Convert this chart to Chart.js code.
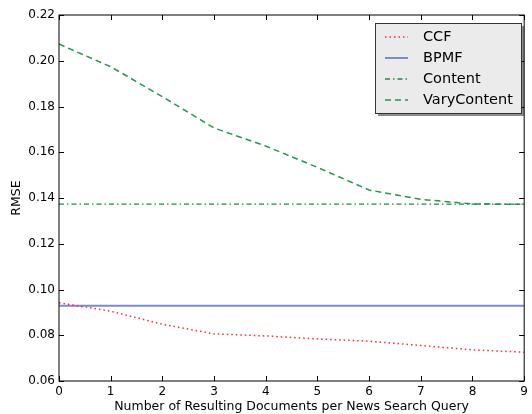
<!DOCTYPE html>
<html lang="en">
<head>
    <meta charset="UTF-8">
    <title>RMSE vs Number of Resulting Documents</title>
    <script src="https://cdn.jsdelivr.net/npm/chart.js"></script>
    <style>
        body { margin: 0; background: #fff; }
        .wrap { width: 532px; height: 414px; position: relative; }
    </style>
</head>
<body>
    <div class="wrap"><canvas id="rmseChart" width="532" height="414"></canvas></div>

    <script>
        const docs = [0, 1, 2, 3, 4, 5, 6, 7, 8, 9];
        const ccf = [0.0942, 0.0905, 0.0848, 0.0806, 0.0797, 0.0784, 0.0774, 0.0755, 0.0736, 0.0726];
        const bpmf = [0.0929, 0.0929, 0.0929, 0.0929, 0.0929, 0.0929, 0.0929, 0.0929, 0.0929, 0.0929];
        const content = [0.1373, 0.1373, 0.1373, 0.1373, 0.1373, 0.1373, 0.1373, 0.1373, 0.1373, 0.1373];
        const varyContent = [0.2073, 0.1974, 0.1843, 0.1706, 0.1627, 0.1534, 0.1435, 0.1394, 0.1374, 0.1372];
        const yTicks = [0.06, 0.08, 0.10, 0.12, 0.14, 0.16, 0.18, 0.20, 0.22];

        const pts = arr => arr.map((v, i) => ({ x: docs[i], y: v }));
        const font = { family: 'DejaVu Sans', size: 12 };
        const titleFont = { family: 'DejaVu Sans', size: 12.5 };

        // matplotlib-style frame with inward ticks + legend box
        const framePlugin = {
            id: 'frame',
            afterDraw(chart) {
                const { ctx, chartArea: a, scales } = chart;
                ctx.save();
                ctx.strokeStyle = '#000';
                ctx.lineWidth = 1;
                ctx.strokeRect(a.left, a.top, a.right - a.left, a.bottom - a.top);
                ctx.beginPath();
                docs.forEach(d => {
                    const x = Math.round(scales.x.getPixelForValue(d)) + 0.5;
                    ctx.moveTo(x, a.bottom); ctx.lineTo(x, a.bottom - 5);
                    ctx.moveTo(x, a.top); ctx.lineTo(x, a.top + 5);
                });
                yTicks.forEach(t => {
                    const y = Math.round(scales.y.getPixelForValue(t)) + 0.5;
                    ctx.moveTo(a.left, y); ctx.lineTo(a.left + 5, y);
                    ctx.moveTo(a.right, y); ctx.lineTo(a.right - 5, y);
                });
                ctx.stroke();

                // legend
                const bx = 375, by = 23, bw = 146, bh = 90;
                ctx.fillStyle = 'rgba(0,0,0,0.45)';
                ctx.fillRect(bx + 3, by + 3, bw, bh);
                ctx.fillStyle = '#ebebeb';
                ctx.fillRect(bx, by, bw, bh);
                ctx.strokeStyle = '#333';
                ctx.strokeRect(bx + 0.5, by + 0.5, bw, bh);
                ctx.font = '14.5px "DejaVu Sans"';
                ctx.textBaseline = 'middle';
                chart.data.datasets.forEach((ds, i) => {
                    const y = by + 14 + i * 21;
                    ctx.strokeStyle = ds.borderColor;
                    ctx.lineWidth = ds.borderWidth;
                    ctx.setLineDash(ds.borderDash || []);
                    ctx.beginPath();
                    ctx.moveTo(bx + 10, y); ctx.lineTo(bx + 33, y);
                    ctx.stroke();
                    ctx.setLineDash([]);
                    ctx.fillStyle = '#000';
                    ctx.fillText(ds.label, bx + 48, y);
                });
                ctx.restore();
            }
        };

        new Chart(document.getElementById('rmseChart'), {
            type: 'line',
            data: {
                datasets: [
                    { label: 'CCF', data: pts(ccf), borderColor: '#ff2a2a', borderWidth: 1.5, borderDash: [1.5, 3] },
                    { label: 'BPMF', data: pts(bpmf), borderColor: '#7c8cc8', borderWidth: 2 },
                    { label: 'Content', data: pts(content), borderColor: '#1f8c45', borderWidth: 1.3, borderDash: [5, 3, 1.5, 3] },
                    { label: 'VaryContent', data: pts(varyContent), borderColor: '#2a9450', borderWidth: 1.5, borderDash: [6, 4] }
                ]
            },
            options: {
                responsive: false,
                animation: false,
                layout: { padding: { top: 15, right: 4, left: 0, bottom: 0 } },
                elements: { point: { radius: 0 }, line: { tension: 0 } },
                plugins: {
                    legend: { display: false },
                    tooltip: { enabled: false }
                },
                scales: {
                    x: {
                        type: 'linear',
                        min: 0, max: 9,
                        afterBuildTicks: s => { s.ticks = docs.map(v => ({ value: v })); },
                        afterFit: s => { s.height = 33; },
                        grid: { display: false, drawTicks: false },
                        border: { display: false },
                        ticks: { color: '#000', font, padding: 4, maxRotation: 0 },
                        title: { display: true, text: 'Number of Resulting Documents per News Search Query', color: '#000', font: titleFont, padding: { top: 0, bottom: 0 } }
                    },
                    y: {
                        min: 0.06, max: 0.22,
                        afterBuildTicks: s => { s.ticks = yTicks.map(v => ({ value: v })); },
                        afterFit: s => { s.width = 59; },
                        grid: { display: false, drawTicks: false },
                        border: { display: false },
                        ticks: { color: '#000', font, padding: 4, callback: v => v.toFixed(2) },
                        title: { display: true, text: 'RMSE', color: '#000', font: titleFont, padding: { top: 9, bottom: 0 } }
                    }
                }
            },
            plugins: [framePlugin]
        });
    </script>
</body>
</html>
